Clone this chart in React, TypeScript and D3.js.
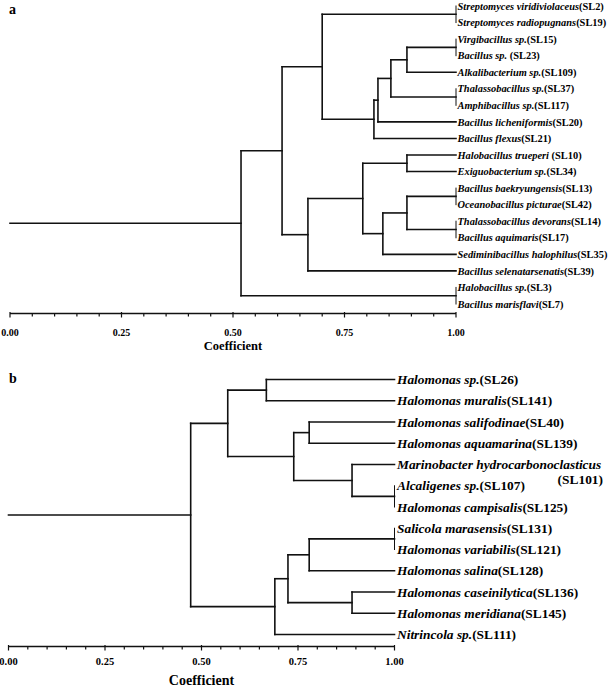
import React from "react";
import * as d3 from "d3";

// ---------- Panel a data ----------
const namesA = [
  "Streptomyces viridiviolaceus", "Streptomyces radiopugnans", "Virgibacillus sp.", "Bacillus sp. ",
  "Alkalibacterium sp.", "Thalassobacillus sp.", "Amphibacillus sp.", "Bacillus licheniformis",
  "Bacillus flexus", "Halobacillus trueperi ", "Exiguobacterium sp.", "Bacillus baekryungensis",
  "Oceanobacillus picturae", "Thalassobacillus devorans", "Bacillus aquimaris", "Sediminibacillus halophilus",
  "Bacillus selenatarsenatis", "Halobacillus sp.", "Bacillus marisflavi",
];
const codesA = [
  "(SL2)", "(SL19)", "(SL15)", "(SL23)", "(SL109)", "(SL37)", "(SL117)", "(SL20)", "(SL21)", "(SL10)",
  "(SL34)", "(SL13)", "(SL42)", "(SL14)", "(SL17)", "(SL35)", "(SL39)", "(SL3)", "(SL7)",
];
// merges: [childA, childB, coefficient]; index < n = leaf, >= n = earlier merge (index - n)
const mergesA: [number, number, number][] = [
  [0, 1, 1.0],
  [2, 3, 1.0],
  [20, 4, 0.89],
  [5, 6, 1.0],
  [21, 22, 0.854],
  [23, 7, 0.825],
  [24, 8, 0.816],
  [19, 25, 0.7],
  [9, 10, 0.89],
  [11, 12, 1.0],
  [13, 14, 1.0],
  [28, 29, 0.89],
  [30, 15, 0.836],
  [27, 31, 0.791],
  [32, 16, 0.668],
  [26, 33, 0.61],
  [17, 18, 1.0],
  [34, 35, 0.518],
];

// ---------- Panel b data ----------
const namesB = [
  "Halomonas sp.", "Halomonas muralis", "Halomonas salifodinae", "Halomonas aquamarina",
  "Marinobacter hydrocarbonoclasticus", "Alcaligenes sp.", "Halomonas campisalis", "Salicola marasensis",
  "Halomonas variabilis", "Halomonas salina", "Halomonas caseinilytica", "Halomonas meridiana", "Nitrincola sp.",
];
const codesB = [
  "(SL26)", "(SL141)", "(SL40)", "(SL139)", "\n(SL101)", "(SL107)", "(SL125)", "(SL131)",
  "(SL121)", "(SL128)", "(SL136)", "(SL145)", "(SL111)",
];
const mergesB: [number, number, number][] = [
  [0, 1, 0.668],
  [2, 3, 0.779],
  [5, 6, 1.0],
  [4, 15, 0.89],
  [14, 16, 0.739],
  [13, 17, 0.568],
  [7, 8, 1.0],
  [19, 9, 0.779],
  [10, 11, 0.89],
  [20, 21, 0.724],
  [22, 12, 0.69],
  [18, 23, 0.472],
];

const majorTicks = [0, 0.25, 0.5, 0.75, 1.0];
const minorStep = 0.05;

const FONT = "'Liberation Serif', 'Times New Roman', serif";

type PanelProps = {
  names: string[];
  codes: string[];
  merges: [number, number, number][];
  xRange: [number, number];
  yRange: [number, number];
  axisY: number;
  labelSize: number;
  labelGap: number;
  tickSize: number;
  titleSize: number;
  tickLabelY: number;
  titleY: number;
  panel: string;
  panelY: number;
  wrapX: number;
  wrapDy: number;
  strokeW: number;
};

function Dendrogram(p: PanelProps) {
  const n = p.names.length;
  const x = d3.scaleLinear().domain([0, 1]).range(p.xRange);
  const y = d3.scalePoint<number>().domain(d3.range(n)).range(p.yRange);

  const nodeX: number[] = [];
  const nodeY: number[] = [];
  for (let i = 0; i < n; i++) {
    nodeX[i] = x(1);
    nodeY[i] = y(i) as number;
  }
  const segs: { x1: number; y1: number; x2: number; y2: number; w: number }[] = [];
  p.merges.forEach(([a, b, c], k) => {
    const id = n + k;
    const nx = x(c);
    const ny = (nodeY[a] + nodeY[b]) / 2;
    nodeX[id] = nx;
    nodeY[id] = ny;
    const thin = c >= 1;
    segs.push({ x1: nx, y1: nodeY[a], x2: nx, y2: nodeY[b], w: thin ? 1 : p.strokeW });
    [a, b].forEach((ch) => {
      if (nodeX[ch] - nx > 0.1) segs.push({ x1: nx, y1: nodeY[ch], x2: nodeX[ch], y2: nodeY[ch], w: p.strokeW });
    });
  });
  const root = n + p.merges.length - 1;
  segs.push({ x1: x(0), y1: nodeY[root], x2: nodeX[root], y2: nodeY[root], w: p.strokeW });

  const minorTicks = d3.range(0, 1 + 1e-9, minorStep);

  return (
    <g>
      <text x={9} y={p.panelY} dy="0.35em" fontFamily={FONT} fontWeight="bold" fontSize={14}>
        {p.panel}
      </text>
      {segs.map((s, i) => (
        <line key={i} x1={s.x1} y1={s.y1} x2={s.x2} y2={s.y2} stroke="#111" strokeWidth={s.w} strokeLinecap="square" />
      ))}
      {p.names.map((nm, i) => {
        const code = p.codes[i];
        const wrapped = code.startsWith("\n");
        return (
          <g key={nm + i}>
            <text
              x={x(1) + p.labelGap}
              y={y(i) as number}
              dy="0.35em"
              fontFamily={FONT}
              fontWeight="bold"
              fontSize={p.labelSize}
            >
              <tspan fontStyle="italic">{nm}</tspan>
              {!wrapped && <tspan>{code}</tspan>}
            </text>
            {wrapped && (
              <text
                x={p.wrapX}
                y={(y(i) as number) + p.wrapDy}
                dy="0.35em"
                textAnchor="end"
                fontFamily={FONT}
                fontWeight="bold"
                fontSize={p.labelSize}
              >
                {code.trim()}
              </text>
            )}
          </g>
        );
      })}
      <line x1={x(0)} x2={x(1)} y1={p.axisY} y2={p.axisY} stroke="#111" strokeWidth={1.6} />
      {minorTicks.map((t, i) => {
        const major = majorTicks.some((m) => Math.abs(m - t) < 1e-6);
        return (
          <line
            key={i}
            x1={x(t)}
            x2={x(t)}
            y1={p.axisY - (major ? 1.5 : 0)}
            y2={p.axisY + (major ? 4 : 3)}
            stroke="#111"
            strokeWidth={1.2}
          />
        );
      })}
      {majorTicks.map((t) => (
        <text
          key={t}
          x={x(t)}
          y={p.tickLabelY}
          dy="0.35em"
          textAnchor="middle"
          fontFamily={FONT}
          fontWeight="bold"
          fontSize={p.tickSize}
        >
          {d3.format(".2f")(t)}
        </text>
      ))}
      <text
        x={x(0.5)}
        y={p.titleY}
        dy="0.35em"
        textAnchor="middle"
        fontFamily={FONT}
        fontWeight="bold"
        fontSize={p.titleSize}
      >
        Coefficient
      </text>
    </g>
  );
}

export default function App() {
  return (
    <div style={{ position: "absolute", left: 0, top: 0 }}>
      <svg width={609} height={687} viewBox="0 0 609 687" style={{ display: "block", background: "#fff" }}>
        <rect width={609} height={687} fill="#fff" />
        <Dendrogram
          names={namesA}
          codes={codesA}
          merges={mergesA}
          xRange={[10, 456]}
          yRange={[6, 304]}
          axisY={313.5}
          labelSize={10.4}
          labelGap={1.5}
          tickSize={10}
          titleSize={12.5}
          tickLabelY={332}
          titleY={345.5}
          panel="a"
          panelY={9}
          wrapX={602}
          wrapDy={11}
          strokeW={1.6}
        />
        <Dendrogram
          names={namesB}
          codes={codesB}
          merges={mergesB}
          xRange={[8.5, 394.5]}
          yRange={[379.5, 634.5]}
          axisY={646.5}
          labelSize={13.4}
          labelGap={2.5}
          tickSize={10.5}
          titleSize={14}
          tickLabelY={661.5}
          titleY={680}
          panel="b"
          panelY={378}
          wrapX={603}
          wrapDy={15}
          strokeW={1.6}
        />
      </svg>
    </div>
  );
}
